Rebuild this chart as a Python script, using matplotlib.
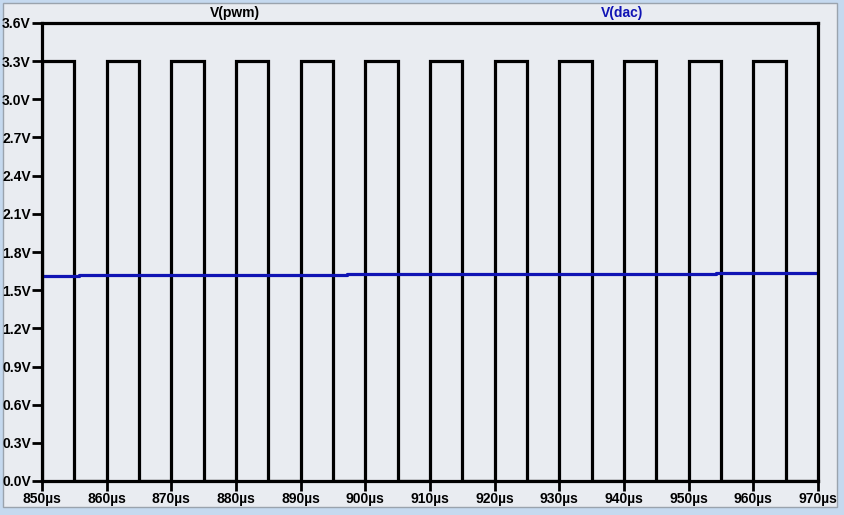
import matplotlib.pyplot as plt
from matplotlib.patches import Rectangle

# ------------------------- Data -------------------------
# PWM pulse edges (µs) and levels (V)
pwm_rise = [850, 860, 870, 880, 890, 900, 910, 920, 930, 940, 950, 960]
pwm_fall = [855, 865, 875, 885, 895, 905, 915, 925, 935, 945, 955, 965]
pwm_high = 3.3
pwm_low = 0.0

# filtered DAC output: step times (µs) and levels (V)
dac_t = [850, 855.7, 897.1, 954.2, 970]
dac_v = [1.612, 1.621, 1.627, 1.634]

x_ticks = [850, 860, 870, 880, 890, 900, 910, 920, 930, 940, 950, 960, 970]
y_ticks = [0.0, 0.3, 0.6, 0.9, 1.2, 1.5, 1.8, 2.1, 2.4, 2.7, 3.0, 3.3, 3.6]

# ------------------------- Build traces -------------------------
pwm_x, pwm_y = [], []
for r, f in zip(pwm_rise, pwm_fall):
    pwm_x += [r, r, f, f]
    pwm_y += [pwm_low, pwm_high, pwm_high, pwm_low]
pwm_x.append(x_ticks[-1])
pwm_y.append(pwm_low)

dac_x, dac_y = [], []
for i, v in enumerate(dac_v):
    dac_x += [dac_t[i], dac_t[i + 1]]
    dac_y += [v, v]

# ------------------------- Plot -------------------------
plt.rcParams['font.family'] = ['Liberation Sans', 'DejaVu Sans']
fig = plt.figure(figsize=(8.44, 5.15), dpi=100, facecolor="#c5d9ef")
fig.patches.append(Rectangle((3 / 844, 8 / 515), 834 / 844, 504 / 515,
                             transform=fig.transFigure, facecolor="#e9ecf1",
                             edgecolor="#9aa3ad", linewidth=1, zorder=-10))

ax = fig.add_axes([42 / 844, 34 / 515, 776 / 844, 458 / 515])
ax.set_facecolor("#e9ecf1")

ax.plot(pwm_x, pwm_y, color="black", lw=2.3, solid_joinstyle="miter", zorder=3)
ax.plot(dac_x, dac_y, color="#1014b4", lw=2.3, zorder=4)

ax.set_xlim(x_ticks[0], x_ticks[-1])
ax.set_ylim(y_ticks[0], y_ticks[-1])
ax.set_xticks(x_ticks)
ax.set_xticklabels([f"{t}µs" for t in x_ticks])
ax.set_yticks(y_ticks)
ax.set_yticklabels([f"{v:.1f}V" for v in y_ticks])
ax.tick_params(length=7, width=2, pad=1, labelsize=10, colors="black")
for lab in ax.get_xticklabels() + ax.get_yticklabels():
    lab.set_fontweight("bold")
for s in ax.spines.values():
    s.set_linewidth(2.3)
    s.set_zorder(5)

fig.text(235 / 844, 1 - 13 / 515, "V(pwm)", ha="center", va="center",
         fontsize=10, fontweight="bold", color="black")
fig.text(622 / 844, 1 - 13 / 515, "V(dac)", ha="center", va="center",
         fontsize=10, fontweight="bold", color="#1014b4")

plt.savefig("out.png", dpi=100, facecolor=fig.get_facecolor())
